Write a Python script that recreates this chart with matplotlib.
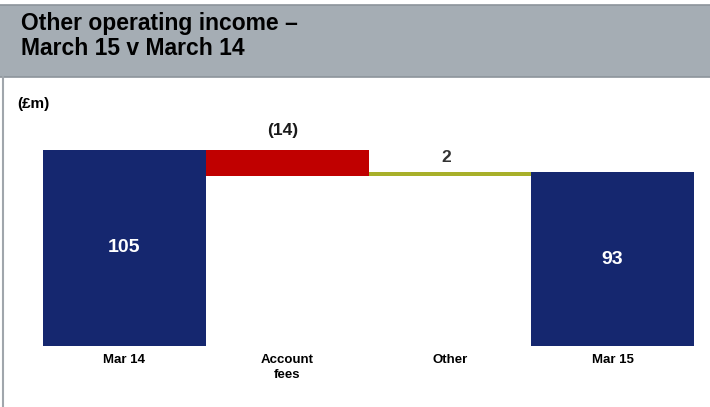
import matplotlib.pyplot as plt
from matplotlib.patches import Rectangle
from matplotlib.lines import Line2D

# waterfall data (GBP m)
categories = ['Mar 14', 'Account\nfees', 'Other', 'Mar 15']
start_value = 105
deltas = [-14, 2]
end_value = 93
delta_labels = ['(14)', '2']

navy = '#15276f'
red = '#c00000'
olive = '#a8b02a'

plt.rcParams['font.family'] = ['Liberation Sans', 'DejaVu Sans']

fig = plt.figure(figsize=(7.10, 4.07), dpi=100)
W, H = 710, 407

# grey header band
fig.patches.append(Rectangle((0, 1 - 77 / H), 1, 72 / H, transform=fig.transFigure,
                             facecolor='#a5adb4', edgecolor='none', zorder=0))
for yy in (1 - 5 / H, 1 - 77 / H):
    fig.lines.append(Line2D([0, 1], [yy, yy], transform=fig.transFigure,
                            color='#8c949b', lw=1.2))
# left border line
fig.lines.append(Line2D([2.5 / W, 2.5 / W], [0, 1 - 77 / H], transform=fig.transFigure,
                        color='#a0a6ac', lw=1.5))

fig.text(21 / W, 1 - 12 / H, 'Other operating income \u2013\nMarch 15 v March 14',
         fontsize=16.5, fontweight='bold', color='black', va='top', ha='left',
         linespacing=1.1)
fig.text(17 / W, 1 - 104 / H, '(\u00a3m)', fontsize=11, fontweight='bold',
         va='center', ha='left')

ax = fig.add_axes([43 / W, (H - 346) / H, (694 - 43) / W, 196 / H])

# running totals
x = list(range(len(categories)))
ax.bar(x[0], start_value, width=1, color=navy)
running = start_value
delta_colors = [red, olive]
label_offsets = [8.5, 5.5]
for i, d in enumerate(deltas):
    bottom = running + min(d, 0)
    ax.bar(x[i + 1], abs(d), bottom=bottom, width=1, color=delta_colors[i])
    top = running + max(d, 0)
    ax.annotate(delta_labels[i], (x[i + 1] - (0.03 if d < 0 else 0.02), top),
                xytext=(0, label_offsets[i]), textcoords='offset points',
                ha='center', va='bottom', fontsize=12.5, fontweight='bold',
                color='#333333' if d > 0 else '#1a1a1a')
    running += d
ax.bar(x[-1], end_value, width=1, color=navy)

ax.text(x[0], start_value / 2, str(start_value), ha='center', va='center',
        color='white', fontsize=14, fontweight='bold')
ax.text(x[-1], end_value / 2, str(end_value), ha='center', va='center',
        color='white', fontsize=14, fontweight='bold')

ax.set_xlim(-0.5, 3.5)
ax.set_ylim(0, start_value)
ax.set_xticks(x)
ax.set_xticklabels(categories, fontsize=9.5, fontweight='bold', linespacing=1.35)
ax.tick_params(axis='x', length=0, pad=6)
ax.set_yticks([])
for s in ax.spines.values():
    s.set_visible(False)

fig.savefig('out.png', dpi=100)
